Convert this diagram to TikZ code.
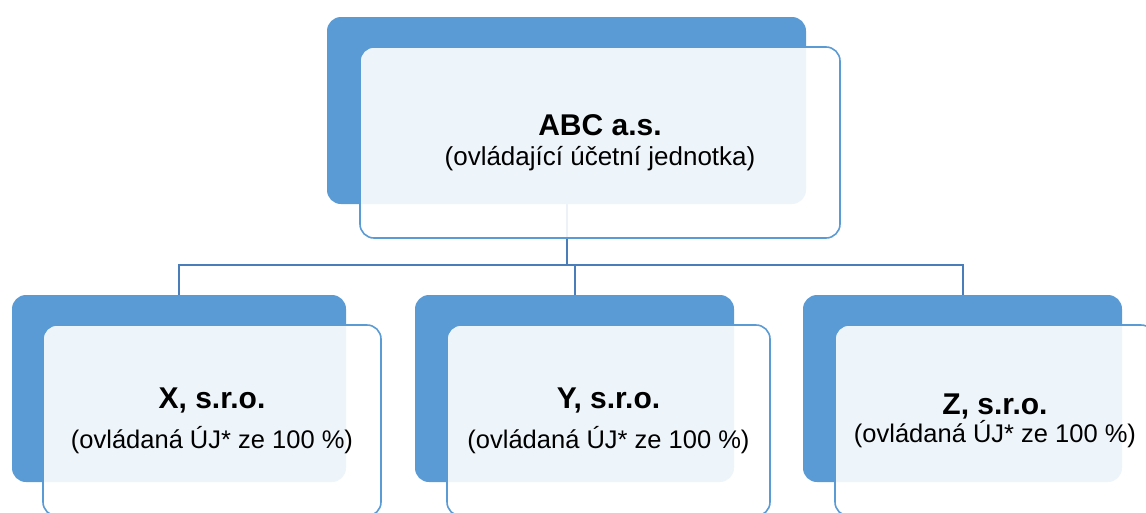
\documentclass[tikz,border=0pt]{standalone}
\usepackage{fontspec}
\setmainfont{Liberation Sans}
\usetikzlibrary{positioning}
\definecolor{boxblue}{HTML}{5B9BD5}
\definecolor{linkblue}{HTML}{4A7EBB}
\tikzset{back box/.style={fill=boxblue,rounded corners=14pt,inner sep=0pt,outer sep=0pt,
        minimum height=187pt,anchor=north west}}
\tikzset{front box/.style={draw=boxblue,line width=1.6pt,fill=white,fill opacity=0.9,
        text opacity=1,rounded corners=14pt,inner sep=0pt,outer sep=0pt,minimum height=191pt,
        anchor=north west,align=center,font=\fontsize{25.5}{28}\selectfont}}
\tikzset{link/.style={draw=linkblue,line width=2pt}}
\newcommand{\firm}[1]{{\bfseries\fontsize{30}{30}\selectfont #1}}

\begin{document}
\begin{tikzpicture}[x=1pt,y=-1pt]
                \useasboundingbox (0,0) rectangle (1146,512);
                % dark back plates
                \node[back box, minimum width=479pt] (abcback) at (327,17) {};
                \node[back box, minimum width=334pt] (xback)   at (12,295)  {};
                \node[back box, minimum width=319pt] (yback)   at (415,295) {};
                \node[back box, minimum width=319pt] (zback)   at (803,295) {};
                % connectors
                \coordinate (bar) at (abcback.south |- 0,265);
                \draw[link] (abcback.south) -- (bar);
                \draw[link] (bar) -| (xback.north);
                \draw[link] (bar) -| (yback.north);
                \draw[link] (bar) -| (zback.north);
                % light front boxes
                \node[front box, minimum width=480pt, font=\fontsize{26}{28}\selectfont] (abc)
                    at ([shift={(33,30)}]abcback.north west)
                    {{\bfseries\fontsize{30}{30}\selectfont ABC a.s.}\\[2pt](ovládající účetní jednotka)};
                \node[front box, minimum width=338pt] (x) at ([shift={(31,30)}]xback.north west)
                    {\firm{X, s.r.o.}\\[12pt](ovládaná ÚJ* ze 100 \%)};
                \node[front box, minimum width=323pt] (y) at ([shift={(32,30)}]yback.north west)
                    {\firm{Y, s.r.o.}\\[12pt](ovládaná ÚJ* ze 100 \%)};
                \node[front box, minimum width=320pt] (z) at ([shift={(32,30)}]zback.north west)
                    {\firm{Z, s.r.o.}\\(ovládaná ÚJ* ze 100 \%)};
            \end{tikzpicture}
\end{document}
